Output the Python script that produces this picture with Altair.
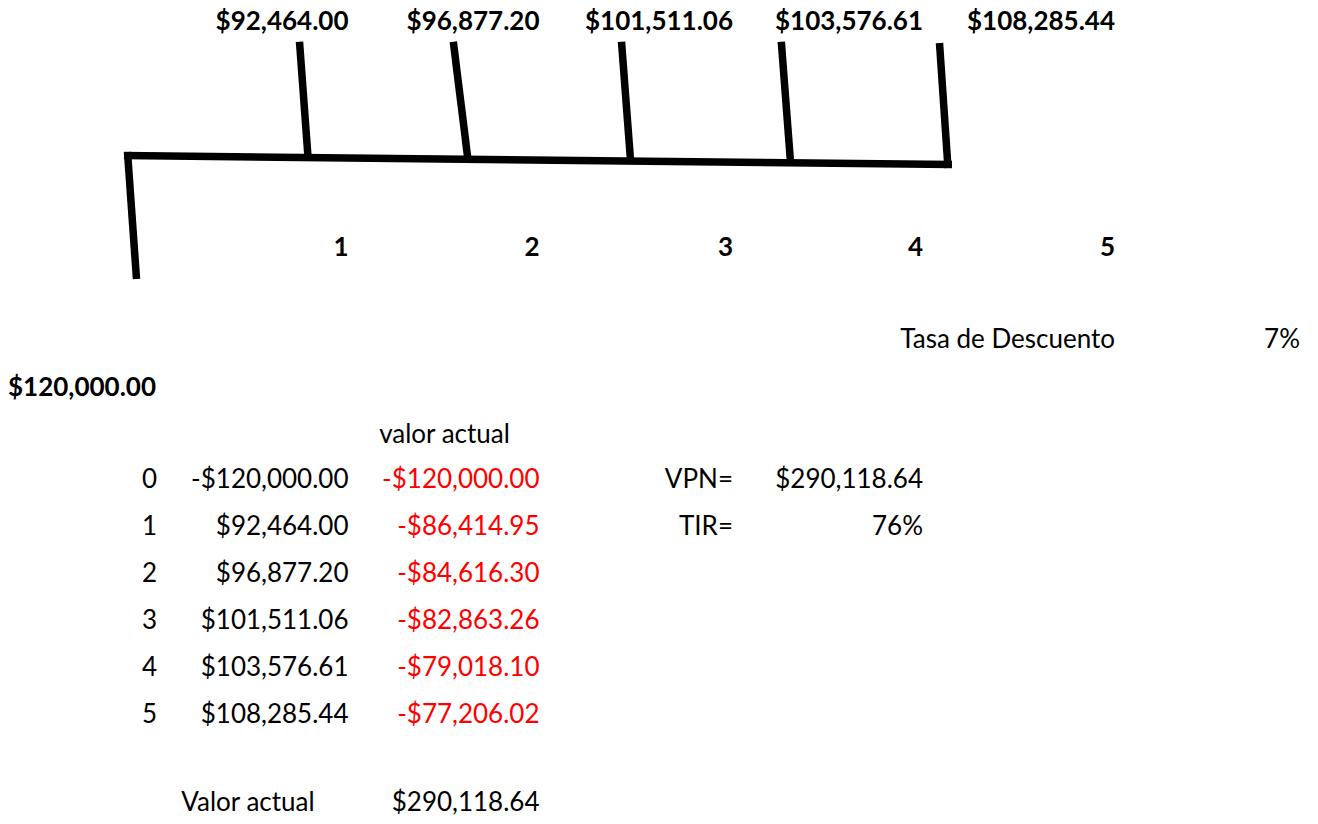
import altair as alt
import pandas as pd

# ---- values (as shown in the sheet) ----
periods = ["0", "1", "2", "3", "4", "5"]
flows = ["-$120,000.00", "$92,464.00", "$96,877.20", "$101,511.06", "$103,576.61", "$108,285.44"]
present_values = ["-$120,000.00", "-$86,414.95", "-$84,616.30", "-$82,863.26", "-$79,018.10", "-$77,206.02"]
diagram_amounts = ["$92,464.00", "$96,877.20", "$101,511.06", "$103,576.61", "$108,285.44"]
diagram_periods = ["1", "2", "3", "4", "5"]
initial_outflow = "$120,000.00"
rate_label, rate_value = "Tasa de Descuento", "7%"
vpn_label, vpn_value = "VPN=", "$290,118.64"
tir_label, tir_value = "TIR=", "76%"
pv_header = "valor actual"
total_label, total_value = "Valor actual", "$290,118.64"

# ---- sheet layout (column anchors / row baselines, in sheet pixels) ----
col_right = {"A": 157, "B": 348.5, "C": 539.5, "D": 733, "E": 923, "F": 1115, "G": 1300}
col_center = {"B": 248, "C": 444.5}
col_left = {"A": 8}
row_base = {1: 29.5, 6: 256, 8: 348, 9: 396, 10: 443, 18: 811}
for i in range(6):
    row_base[11 + i] = 488 + 46.9 * i

# cash-flow diagram strokes (hand drawn shapes on the sheet)
diagram = pd.DataFrame({
    "x":  [127.5, 124.0, 299.5, 453.3, 621.5, 781.3, 939.5],
    "y":  [152.0, 155.5, 41.7, 41.7, 41.7, 41.7, 43.0],
    "x2": [136.5, 952.0, 308.0, 468.0, 630.5, 790.5, 948.0],
    "y2": [279.0, 164.5, 157.0, 160.0, 160.0, 162.0, 168.0],
})

# ---- build cell table ----
cells = []
def add(text, col, row, style, color="black"):
    if style["align"] == "right":
        x = col_right[col]
    elif style["align"] == "center":
        x = col_center[col]
    else:
        x = col_left[col]
    cells.append({"text": text, "x": x, "y": row_base[row], "style": style["name"], "color": color})

R = {"name": "r", "align": "right"}
RB = {"name": "rb", "align": "right"}
LB = {"name": "lb", "align": "left"}
C = {"name": "c", "align": "center"}

cols = ["B", "C", "D", "E", "F"]
for c, amt, p in zip(cols, diagram_amounts, diagram_periods):
    add(amt, c, 1, RB)
    add(p, c, 6, RB)
add(rate_label, "F", 8, R)
add(rate_value, "G", 8, R)
add(initial_outflow, "A", 9, LB)
add(pv_header, "C", 10, C)
for i, (p, f, pv) in enumerate(zip(periods, flows, present_values)):
    add(p, "A", 11 + i, R)
    add(f, "B", 11 + i, R)
    add(pv, "C", 11 + i, R, "#FF0000")
add(vpn_label, "D", 11, R)
add(vpn_value, "E", 11, R)
add(tir_label, "D", 12, R)
add(tir_value, "E", 12, R)
add(total_label, "B", 18, C)
add(total_value, "C", 18, R)

df = pd.DataFrame(cells)

W, H = 1302, 808
xs = alt.Scale(domain=[8, 8 + W], nice=False, zero=False)
ys = alt.Scale(domain=[8, 8 + H], nice=False, zero=False, reverse=True)
FONT = "Lato"
FS = 26

base = alt.Chart(df)

def text_layer(style, align, weight):
    return base.transform_filter(alt.datum.style == style).mark_text(
        align=align, baseline="alphabetic", font=FONT, fontSize=FS, fontWeight=weight
    ).encode(
        x=alt.X("x:Q", scale=xs, axis=None),
        y=alt.Y("y:Q", scale=ys, axis=None),
        text="text:N",
        color=alt.Color("color:N", scale=None),
    )

lines = alt.Chart(diagram).mark_rule(color="black", strokeWidth=7.5, strokeCap="butt").encode(
    x=alt.X("x:Q", scale=xs, axis=None),
    y=alt.Y("y:Q", scale=ys, axis=None),
    x2="x2:Q",
    y2="y2:Q",
)

chart = alt.layer(
    lines,
    text_layer("r", "right", "normal"),
    text_layer("rb", "right", "bold"),
    text_layer("lb", "left", "bold"),
    text_layer("c", "center", "normal"),
).properties(
    width=W, height=H, padding=0, background="white",
    autosize=alt.AutoSizeParams(type="none"),
).configure_view(stroke=None)

chart.save("out.html", embed_options={"renderer": "svg", "actions": False})
